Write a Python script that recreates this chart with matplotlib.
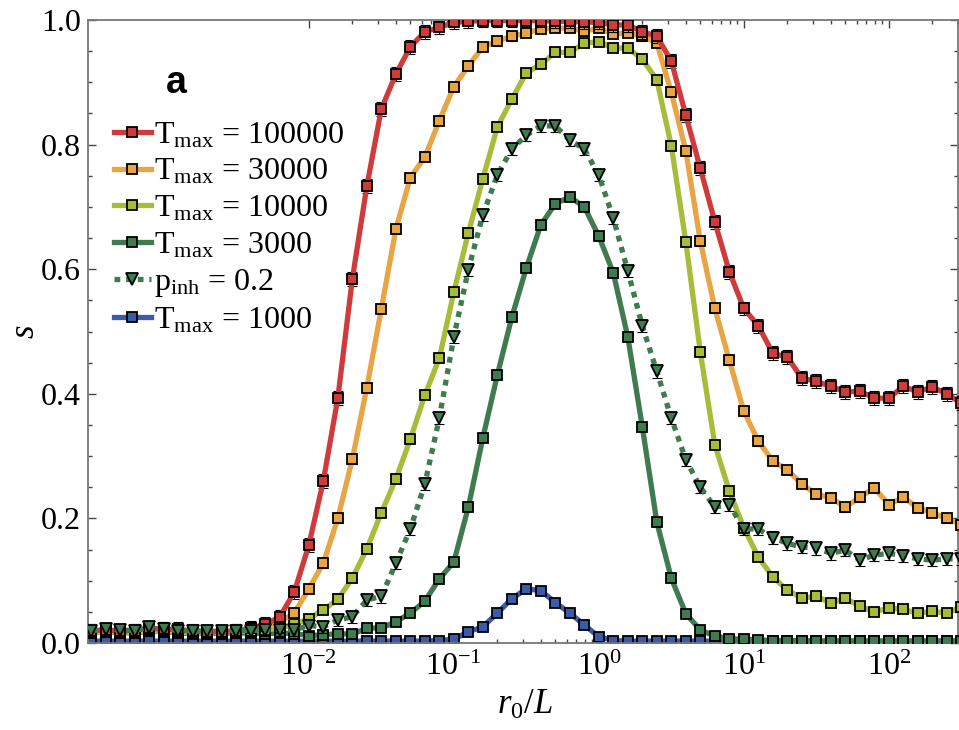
import numpy as np
import matplotlib
matplotlib.use("Agg")
import matplotlib.pyplot as plt
from matplotlib.ticker import FixedLocator, MultipleLocator, LogFormatterSciNotation, NullFormatter, FormatStrFormatter

plt.rcParams['font.family'] = ['Liberation Serif', 'DejaVu Serif']
plt.rcParams['mathtext.fontset'] = 'custom'
plt.rcParams['mathtext.rm'] = 'Liberation Serif'
plt.rcParams['mathtext.it'] = 'Liberation Serif:italic'
plt.rcParams['mathtext.bf'] = 'Liberation Serif:bold'
plt.rcParams['mathtext.default'] = 'regular'

# x grid: log10(r0/L) from -3.5 to 2.5 in steps of 0.1
log_r0 = np.round(np.arange(-3.5, 2.55, 0.1), 1)
r0_L = 10.0 ** log_r0

s_T100000 = [0.020, 0.021, 0.019, 0.020, 0.024, 0.022, 0.022, 0.019, 0.018, 0.018, 0.019,
             0.024, 0.030, 0.042, 0.082, 0.157, 0.260, 0.393, 0.584, 0.733, 0.857,
             0.913, 0.957, 0.981, 0.988, 0.996, 0.998, 0.999, 0.999, 0.999, 0.999,
             0.999, 0.998, 0.998, 0.997, 0.996, 0.992, 0.992, 0.981, 0.974, 0.934,
             0.847, 0.762, 0.676, 0.596, 0.537, 0.509, 0.465, 0.459, 0.425, 0.420,
             0.412, 0.403, 0.404, 0.393, 0.393, 0.412, 0.403, 0.411, 0.400, 0.385]

s_T30000 = [0.018, 0.020, 0.020, 0.019, 0.022, 0.021, 0.020, 0.018, 0.019, 0.020, 0.020,
            0.024, 0.027, 0.034, 0.048, 0.087, 0.128, 0.200, 0.295, 0.410, 0.536,
            0.664, 0.747, 0.780, 0.838, 0.893, 0.926, 0.957, 0.966, 0.974, 0.979,
            0.986, 0.987, 0.987, 0.982, 0.987, 0.978, 0.979, 0.974, 0.963, 0.884,
            0.790, 0.645, 0.537, 0.454, 0.372, 0.324, 0.292, 0.278, 0.255, 0.239,
            0.233, 0.218, 0.234, 0.249, 0.222, 0.234, 0.217, 0.209, 0.200, 0.190]

s_T10000 = [0.016, 0.018, 0.017, 0.016, 0.020, 0.018, 0.017, 0.016, 0.016, 0.017, 0.018,
            0.020, 0.021, 0.024, 0.030, 0.039, 0.053, 0.070, 0.104, 0.151, 0.209,
            0.263, 0.327, 0.398, 0.457, 0.563, 0.658, 0.745, 0.828, 0.873, 0.915,
            0.929, 0.948, 0.948, 0.963, 0.965, 0.955, 0.955, 0.937, 0.904, 0.798,
            0.644, 0.467, 0.318, 0.244, 0.185, 0.138, 0.106, 0.085, 0.072, 0.075,
            0.064, 0.072, 0.059, 0.050, 0.056, 0.054, 0.048, 0.051, 0.048, 0.058]

s_T3000 = [0.017, 0.018, 0.017, 0.016, 0.019, 0.018, 0.016, 0.015, 0.015, 0.016, 0.016,
           0.016, 0.015, 0.016, 0.015, 0.012, 0.013, 0.015, 0.014, 0.024, 0.024,
           0.034, 0.048, 0.067, 0.103, 0.130, 0.218, 0.329, 0.430, 0.523, 0.602,
           0.671, 0.705, 0.716, 0.700, 0.653, 0.594, 0.491, 0.347, 0.194, 0.104,
           0.047, 0.021, 0.011, 0.007, 0.006, 0.005, 0.004, 0.004, 0.004, 0.003,
           0.003, 0.003, 0.003, 0.003, 0.003, 0.003, 0.003, 0.003, 0.003, 0.003]

s_pinh02 = [0.020, 0.022, 0.021, 0.020, 0.025, 0.023, 0.020, 0.019, 0.019, 0.019, 0.020,
            0.020, 0.021, 0.021, 0.021, 0.028, 0.026, 0.037, 0.042, 0.069, 0.075,
            0.128, 0.183, 0.255, 0.361, 0.491, 0.599, 0.687, 0.751, 0.793, 0.815,
            0.830, 0.830, 0.807, 0.793, 0.751, 0.682, 0.597, 0.509, 0.436, 0.361,
            0.294, 0.250, 0.218, 0.222, 0.183, 0.183, 0.169, 0.160, 0.154, 0.152,
            0.144, 0.149, 0.133, 0.141, 0.144, 0.140, 0.135, 0.133, 0.135, 0.135]

s_T1000 = [0.003, 0.003, 0.003, 0.003, 0.003, 0.003, 0.003, 0.003, 0.003, 0.003, 0.003,
           0.003, 0.003, 0.003, 0.003, 0.003, 0.003, 0.003, 0.003, 0.003, 0.003,
           0.003, 0.003, 0.003, 0.004, 0.006, 0.018, 0.026, 0.048, 0.071, 0.087,
           0.084, 0.065, 0.048, 0.029, 0.010, 0.004, 0.003, 0.003, 0.003, 0.003,
           0.003, 0.003, 0.003, 0.003, 0.003, 0.003, 0.003, 0.003, 0.003, 0.003,
           0.003, 0.003, 0.003, 0.003, 0.003, 0.003, 0.003, 0.003, 0.003, 0.003]

# approximate error bar half-widths per series
err = {'T100000': 0.011, 'T30000': 0.007, 'T10000': 0.005,
       'T3000': 0.005, 'pinh': 0.010, 'T1000': 0.003}

labels = [r'$\mathregular{T_{max}}$ = 100000', r'$\mathregular{T_{max}}$ = 30000',
          r'$\mathregular{T_{max}}$ = 10000', r'$\mathregular{T_{max}}$ = 3000',
          r'$\mathregular{p_{inh}}$ = 0.2', r'$\mathregular{T_{max}}$ = 1000']

c_red = '#cf3b3b'
c_orange = '#e9a444'
c_lgreen = '#a8bc3a'
c_dgreen = '#3f7b4f'
c_blue = '#3a5ca8'

fig = plt.figure(figsize=(9.59, 7.30), dpi=100)
ax = fig.add_axes([88/959, 87/730, 870/959, 623/730])

lw = 3.8
ms = 7
mew = 1.3

def draw(y, color, label, key, marker='s', msz=ms, z=2, dashes=None):
    ax.errorbar(r0_L, y, yerr=err[key], fmt='none', ecolor='black', elinewidth=0.8,
                capsize=3.5, capthick=0.8, zorder=z)
    ln, = ax.plot(r0_L, y, color=color, lw=lw, marker=marker, ms=msz,
                  mfc=color, mec='black', mew=mew, label=label, zorder=z + 0.1)
    if dashes is not None:
        ln.set_dashes(dashes)
    return ln

h_red = draw(s_T100000, c_red, labels[0], 'T100000', z=7)
h_or = draw(s_T30000, c_orange, labels[1], 'T30000', z=6)
h_lg = draw(s_T10000, c_lgreen, labels[2], 'T10000', z=5)
h_dg = draw(s_T3000, c_dgreen, labels[3], 'T3000', z=3)
h_pi = draw(s_pinh02, c_dgreen, labels[4], 'pinh', marker='v', msz=8, z=8, dashes=(1.1, 1.1))
h_bl = draw(s_T1000, c_blue, labels[5], 'T1000', z=2)

ax.set_xscale('log')
ax.set_xlim(3e-4, 300)
ax.set_ylim(0.0, 1.0)

major_x = [1e-2, 1e-1, 1e0, 1e1, 1e2]
minor_x = [m * d for d in major_x for m in range(2, 10)]
ax.xaxis.set_major_locator(FixedLocator(major_x))
ax.xaxis.set_minor_locator(FixedLocator(minor_x))
ax.xaxis.set_major_formatter(LogFormatterSciNotation())
ax.xaxis.set_minor_formatter(NullFormatter())
ax.yaxis.set_major_locator(MultipleLocator(0.2))
ax.yaxis.set_minor_locator(MultipleLocator(0.05))
ax.yaxis.set_major_formatter(FormatStrFormatter('%.1f'))

spine_c = '#777777'
for sp in ax.spines.values():
    sp.set_color(spine_c)
    sp.set_linewidth(1.3)
ax.tick_params(which='both', direction='in', top=True, right=True, color='#444444',
               labelsize=23, width=1.0)
ax.tick_params(which='major', length=6)
ax.tick_params(which='minor', length=3)
ax.tick_params(axis='y', pad=5)
ax.tick_params(axis='x', pad=7)

ax.set_ylabel(r'$\mathit{s}$', fontsize=25, rotation=90, va='center')
ax.yaxis.set_label_coords(-0.072, 0.5)
ax.set_xlabel(r'$\mathit{r}_{\mathit{0}}/\mathit{L}$', fontsize=25, va='center')
ax.xaxis.set_label_coords(0.502, -0.10)

ax.text(0.102, 0.883, 'a', transform=ax.transAxes, fontsize=27, fontweight='bold',
        family=['Liberation Sans', 'DejaVu Sans'], ha='center', va='baseline')

handles = [h_red, h_or, h_lg, h_dg, h_pi, h_bl]
leg = ax.legend(handles, labels, loc='upper left', bbox_to_anchor=(0.030, 0.838),
                frameon=False, fontsize=23, handlelength=1.15, handletextpad=0.1,
                labelspacing=0.22, borderpad=0, borderaxespad=0, numpoints=1)

fig.savefig('out.png', dpi=100)
